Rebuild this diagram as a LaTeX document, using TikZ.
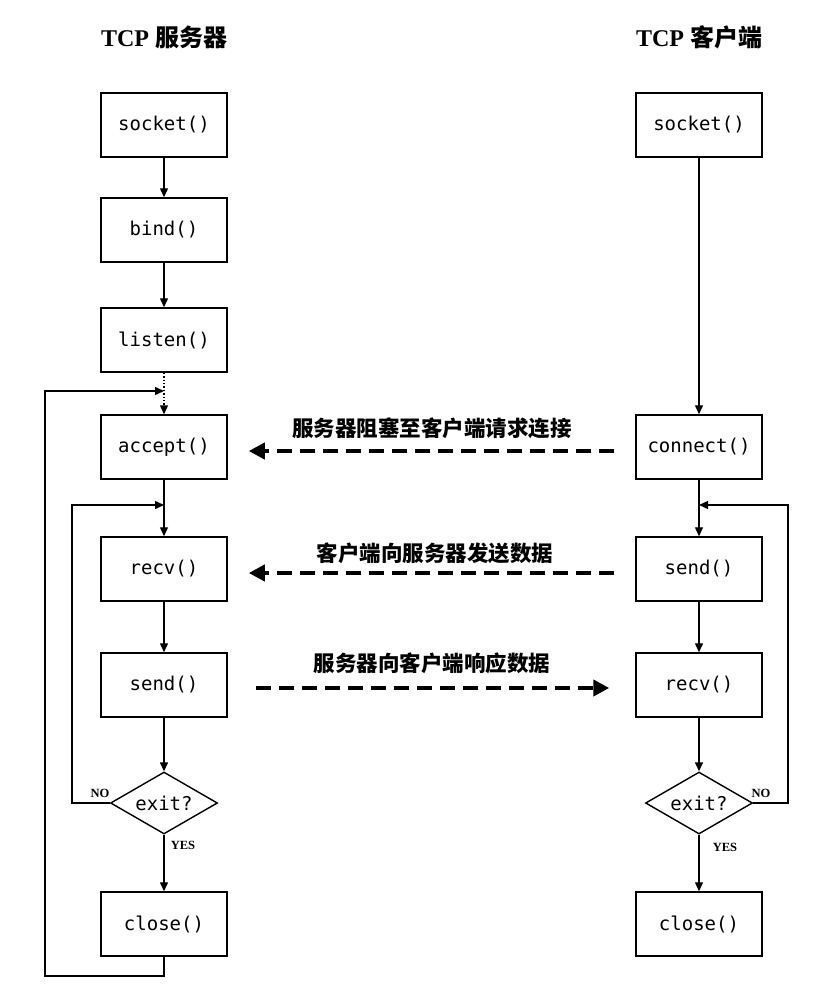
\documentclass[tikz,border=0pt]{standalone}
\usepackage{fontspec}
\setmainfont{Liberation Serif}
\setmonofont{DejaVu Sans Mono}
\newfontfamily\cjk{Noto Sans CJK SC}
\usetikzlibrary{shapes.geometric,arrows.meta}
\begin{document}
\begin{tikzpicture}[x=1pt,y=-1pt,
  box/.style={draw,line width=1.5pt,minimum width=126pt,minimum height=64pt,inner sep=0pt,font=\ttfamily\fontsize{19}{22}\selectfont},
  dia/.style={draw,line width=1.4pt,diamond,aspect=1.7,minimum width=107pt,minimum height=62pt,inner sep=0pt,font=\ttfamily\fontsize{19}{22}\selectfont},
  flow/.style={line width=1.4pt,-{Triangle[length=9pt,width=8pt]}},
  dashar/.style={line width=4pt,dash pattern=on 15pt off 8pt,-{Triangle[length=16pt,width=16pt]}},
  lbl/.style={font=\cjk\bfseries\fontsize{21.5}{25}\selectfont},
  ttl/.style={font=\bfseries\fontsize{24}{28}\selectfont},
  yn/.style={font=\bfseries\fontsize{12.5}{14}\selectfont}]
\useasboundingbox (0,0) rectangle (825,1001);
% titles
\node[ttl] (tsrv) at (164,37) {TCP {\cjk 服务器}};
\node[ttl] (tcli) at (699,37) {TCP {\cjk 客户端}};
% server column
\node[box] (ssock) at (164,125) {socket()};
\node[box] (sbind) at (164,230) {bind()};
\node[box] (slist) at (164,340) {listen()};
\node[box] (sacc) at (164,447) {accept()};
\node[box] (srecv) at (164,569) {recv()};
\node[box] (ssend) at (164,685) {send()};
\node[dia] (sexit) at (164,803) {exit?};
\node[box] (sclose) at (164,924) {close()};
% client column
\node[box] (csock) at (699,125) {socket()};
\node[box] (cconn) at (699,447) {connect()};
\node[box] (csend) at (699,569) {send()};
\node[box] (crecv) at (699,685) {recv()};
\node[dia] (cexit) at (699,803) {exit?};
\node[box] (cclose) at (699,924) {close()};
% junction coordinates
\coordinate (sj0) at (164,391);
\coordinate (sj1) at (164,505);
\coordinate (cj1) at (699,505);
% server flow
\draw[flow] (ssock) -- (sbind);
\draw[flow] (sbind) -- (slist);
\draw[flow,dotted] (slist) -- (sacc);
\draw[flow] (sacc) -- (srecv);
\draw[flow] (srecv) -- (ssend);
\draw[flow] (ssend) -- (sexit);
\draw[flow] (sexit) -- (sclose);
\draw[flow] (sexit.west) -| (72,505) -- (sj1);
\draw[flow] (sclose.south) |- (45,976) |- (sj0);
% client flow
\draw[flow] (csock) -- (cconn);
\draw[flow] (cconn) -- (csend);
\draw[flow] (csend) -- (crecv);
\draw[flow] (crecv) -- (cexit);
\draw[flow] (cexit) -- (cclose);
\draw[flow] (cexit.east) -| (788,505) -- (cj1);
% labels yes/no
\node[yn] (sno) at (100,793) {NO};
\node[yn] (syes) at (183,845) {YES};
\node[yn] (cno) at (761,793) {NO};
\node[yn] (cyes) at (725,847) {YES};
% dashed messages
\draw[dashar] ([xshift=-21pt,yshift=-4pt]cconn.west) -- ([xshift=21pt,yshift=-4pt]sacc.east);
\draw[dashar] ([xshift=-21pt,yshift=-4pt]csend.west) -- ([xshift=21pt,yshift=-4pt]srecv.east);
\draw[dashar] ([xshift=28pt,yshift=-3pt]ssend.east) -- ([xshift=-26pt,yshift=-3pt]crecv.west);
\node[lbl] (m1) at (432,428) {服务器阻塞至客户端请求连接};
\node[lbl] (m2) at (435,553) {客户端向服务器发送数据};
\node[lbl] (m3) at (432,663) {服务器向客户端响应数据};
\end{tikzpicture}
\end{document}
